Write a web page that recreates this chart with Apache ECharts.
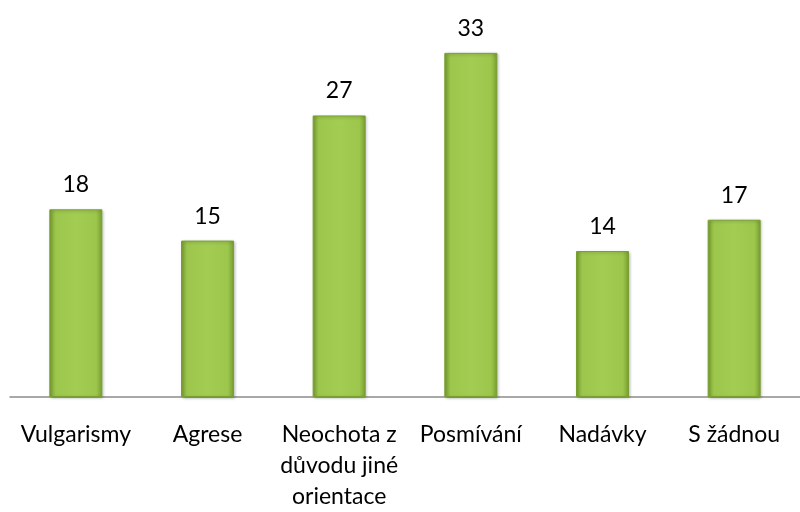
<!DOCTYPE html>
<html>
<head>
<meta charset="utf-8">
<script src="https://cdn.jsdelivr.net/npm/echarts@6/dist/echarts.min.js"></script>
<style>
  html, body { margin: 0; padding: 0; background: #fff; }
  #chart { width: 800px; height: 512px; }
</style>
</head>
<body>
<div id="chart"></div>
<script>
// categories and values
const categories = ["Vulgarismy", "Agrese", "Neochota z\ndůvodu jiné\norientace", "Posmívání", "Nadávky", "S žádnou"];
const values = [18, 15, 27, 33, 14, 17];

const FONT = "Lato, 'Open Sans', sans-serif";

const barFill = new echarts.graphic.LinearGradient(0, 0, 1, 0, [
  { offset: 0, color: "#7a9f32" },
  { offset: 0.12, color: "#9cc74c" },
  { offset: 0.5, color: "#a2cc52" },
  { offset: 0.88, color: "#9cc74c" },
  { offset: 1, color: "#7a9f32" },
]);

const chart = echarts.init(document.getElementById("chart"));
chart.setOption({
  animation: false,
  textStyle: { fontFamily: FONT },
  grid: { left: 10, width: 799, top: 21.6, height: 380.4 },
  xAxis: {
    type: "category",
    data: categories,
    axisTick: { show: false },
    axisLine: { lineStyle: { color: "#8c8c8c", width: 1.5 } },
    axisLabel: {
      color: "#000",
      fontSize: 23,
      fontFamily: FONT,
      lineHeight: 31,
      margin: 22,
      interval: 0,
    },
  },
  yAxis: {
    type: "value",
    min: 0,
    max: 36,
    show: false,
    splitLine: { show: false },
  },
  series: [
    {
      type: "bar",
      data: values,
      barWidth: 53,
      itemStyle: {
        color: barFill,
        borderColor: "#78a030",
        borderWidth: 1,
        shadowColor: "rgba(0,0,0,0.25)",
        shadowBlur: 3,
        shadowOffsetX: 1,
        shadowOffsetY: 1,
      },
      label: {
        show: true,
        position: "top",
        distance: 13,
        color: "#000",
        fontSize: 23,
        fontFamily: FONT,
      },
    },
  ],
});
</script>
</body>
</html>
